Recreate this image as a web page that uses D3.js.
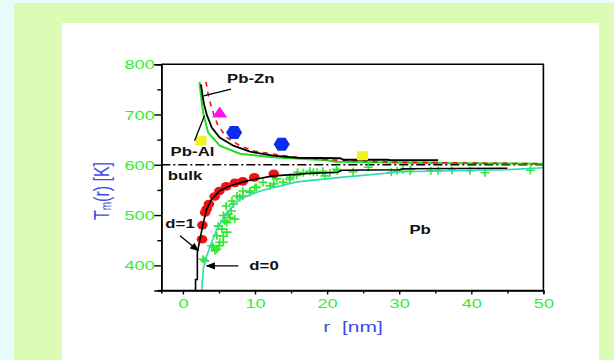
<!DOCTYPE html>
<html><head><meta charset="utf-8">
<script src="https://cdn.jsdelivr.net/npm/d3@7"></script>
<style>html,body{margin:0;padding:0;background:#e6fdfc;}svg{display:block;font-family:Arial,"Liberation Sans",sans-serif;}</style>
</head><body>
<svg id="c" width="614" height="360"></svg>
<script>
// ---------- data ----------
const xTicks = [0, 10, 20, 30, 40, 50];
const xMinor = [5, 15, 25, 35, 45];
const yTicks = [400, 500, 600, 700, 800];
const yMinor = [450, 550, 650, 750];
const bulkT = 600;

const upperBlack = [[2.5,760],[2.7,740],[2.9,722],[3.3,700],[4,674],[5.1,654],[7,638],[9.3,626],[12.5,618],[15.8,614],[21.8,613],[22.3,610],[28.4,610],[28.8,609],[35.4,609]];
const upperGreen = [[2.3,765],[2.5,738],[2.7,714],[2.9,697],[3.5,664],[5.1,638],[7.9,622],[12.5,615],[20,609],[21,606],[30,604],[50,602]];
const upperRed = [[3.2,765],[3.5,740],[4,712],[4.8,680],[6,655],[8,637],[10,627],[15,616],[20,610],[30,605],[50,602]];
const lowerBlack = [[1.75,350],[1.75,372],[2.0,372],[2.0,426],[2.37,452],[2.83,485],[3.3,512],[4,532],[5.1,548],[6.5,558],[8.85,568],[12.5,578],[15.8,581],[17.7,583],[21.5,585],[22,589],[30,590],[30.5,592],[45,593]];
const lowerCyan = [[2.6,350],[2.83,393],[3.3,419],[4,446],[4.7,472],[6.1,505],[7.9,532],[10.7,548],[13.5,558],[15.8,566],[21.9,575],[30.5,586],[44.7,590],[50,594]];

const redCircles = [[2.65,452],[2.7,480],[3.07,505],[3.3,512],[3.6,522],[4.4,537],[5.05,548],[6.0,557],[7.2,564],[8.3,567],[9.9,575],[12.6,582]];
const greenCrosses = [[2.8,412],[3.05,409],[4.0,439],[4.2,436],[4.45,429],[4.7,432],[5.0,439],[5.1,446],[5.6,446],[5.6,458],[6.1,466],[4.7,459],[4.9,478],[5.4,472],[5.8,488],[6.1,485],[6.5,495],[7.2,492],[5.6,499],[6.3,502],[6.7,508],[6.0,518],[7.0,522],[6.8,528],[7.9,535],[7.5,538],[8.3,538],[8.3,548],[9.3,545],[9.3,548],[10,555],[10.2,555],[11.1,565],[12.1,558],[12.6,562],[13,572],[13.9,565],[14.8,571],[14.9,575],[15.8,579],[15.9,585],[16.7,584],[17.6,587],[18.1,585],[18.6,585],[19.4,587],[19.7,578],[20.4,584],[21.3,591],[21.4,588],[23.6,586],[25.7,595],[28.9,585],[29.7,588],[30.5,590],[31.5,587],[31.6,591],[34.4,588],[35.4,588],[37.3,589],[39.8,588],[41.9,584],[48.2,589]];
const yellowSquares = [[2.5,648],[24.9,618]];
const magentaTriangles = [[5.1,704]];
const blueDiamonds = [[7.1,664],[13.7,641]];

const labels = [
  {t:"Pb-Zn", r:9.4, T:771},
  {t:"Pb-Al", r:1.33, T:625},
  {t:"bulk", r:0.29, T:577.5},
  {t:"d=1", r:-0.4, T:482},
  {t:"d=0", r:11.25, T:399},
  {t:"Pb", r:32.9, T:470}
];
const leaders = [
  {a:[2.87,737], b:[6.67,750.5], arrow:false},
  {a:[1.62,647.7], b:[2.98,697.4], arrow:false},
  {a:[-0.4,459], b:[2.14,429], arrow:true},
  {a:[7.68,399], b:[3.3,399], arrow:true}
];

// ---------- layout ----------
const SX = 1.4;
const svg = d3.select("#c");
svg.append("rect").attr("x",14).attr("y",3).attr("width",600).attr("height",357).attr("fill","#dcfcb6");
svg.append("rect").attr("x",62).attr("y",23).attr("width",537).attr("height",337).attr("fill","#ffffff");

const x = d3.scaleLinear().domain([-3,50]).range([161.3,543.4]);
const y = d3.scaleLinear().domain([350,800]).range([290.5,64.2]);

const tickGreen = "#33ee33";
const g = svg.append("g");

// defs
const defs = svg.append("defs");
defs.append("marker").attr("id","ah").attr("viewBox","0 0 10 10").attr("refX",9).attr("refY",5)
  .attr("markerWidth",7).attr("markerHeight",7).attr("orient","auto-start-reverse")
  .append("path").attr("d","M0,1 L10,5 L0,9 Z").attr("fill","#000");
defs.append("clipPath").attr("id","pc").append("rect")
  .attr("x",x(-3)).attr("y",y(800)).attr("width",x(50)-x(-3)).attr("height",y(350)-y(800));

const plot = g.append("g").attr("clip-path","url(#pc)");
const line = d3.line().x(d=>x(d[0])).y(d=>y(d[1]));
const curve = d3.line().x(d=>x(d[0])).y(d=>y(d[1])).curve(d3.curveMonotoneX);

// bulk dash-dot
plot.append("path").datum([[-3,bulkT],[50,bulkT]]).attr("d",line)
  .attr("stroke","#000").attr("stroke-width",1.5).attr("stroke-dasharray","9,3,2,3").attr("fill","none");

// green crosses
plot.append("g").selectAll("path").data(greenCrosses).join("path")
  .attr("d",d=>{const cx=x(d[0]),cy=y(d[1]);return `M${cx-4.5},${cy}H${cx+4.5}M${cx},${cy-4}V${cy+4}`;})
  .attr("stroke","#2de82d").attr("stroke-width",1.6).attr("fill","none");

// red circles
plot.append("g").selectAll("ellipse").data(redCircles).join("ellipse")
  .attr("cx",d=>x(d[0])).attr("cy",d=>y(d[1])).attr("rx",5.3).attr("ry",4.3).attr("fill","#ee1111");

// curves
plot.append("path").datum(lowerCyan).attr("d",line).attr("stroke","#2fd9b4").attr("stroke-width",1.6).attr("fill","none");
plot.append("path").datum(lowerBlack).attr("d",line).attr("stroke","#000").attr("stroke-width",1.6).attr("fill","none");
plot.append("path").datum(upperGreen).attr("d",line).attr("stroke","#22dd22").attr("stroke-width",2).attr("fill","none");
plot.append("path").datum(upperRed).attr("d",line).attr("stroke","#ee1111").attr("stroke-width",1.6).attr("stroke-dasharray","5,5").attr("fill","none");
plot.append("path").datum(upperBlack).attr("d",line).attr("stroke","#000").attr("stroke-width",1.8).attr("fill","none");

// markers
plot.append("g").selectAll("rect").data(yellowSquares).join("rect")
  .attr("x",d=>x(d[0])-5.5).attr("y",d=>y(d[1])-4.5).attr("width",11).attr("height",9).attr("fill","#f2f21e");
plot.append("g").selectAll("path").data(magentaTriangles).join("path")
  .attr("d",d=>{const cx=x(d[0]),cy=y(d[1]);return `M${cx-7.5},${cy+5}L${cx},${cy-6}L${cx+7.5},${cy+5}Z`;})
  .attr("fill","#ff10f0");
plot.append("g").selectAll("path").data(blueDiamonds).join("path")
  .attr("d",d=>{const cx=x(d[0]),cy=y(d[1]);return `M${cx-8},${cy}L${cx-4},${cy-6.5}L${cx+4},${cy-6.5}L${cx+8},${cy}L${cx+4},${cy+6.5}L${cx-4},${cy+6.5}Z`;})
  .attr("fill","#0a2ef0");

// leaders
g.append("g").selectAll("path").data(leaders).join("path")
  .attr("d",d=>`M${x(d.a[0])},${y(d.a[1])}L${x(d.b[0])},${y(d.b[1])}`)
  .attr("stroke","#000").attr("stroke-width",1.3).attr("fill","none")
  .attr("marker-end",d=>d.arrow?"url(#ah)":null);

// frame
g.append("path").attr("d",`M${x(-3)},${y(800)}H${x(50)}V${y(350)}`).attr("stroke","#000").attr("stroke-width",1.6).attr("fill","none");

// axes
const ax = g.append("g").attr("transform",`translate(0,${y(350)})`);
ax.call(d3.axisBottom(x).tickValues(xTicks).tickSize(4).tickFormat(d3.format("d")));
ax.append("g").call(d3.axisBottom(x).tickValues(xMinor).tickSize(3).tickFormat(""));
ax.selectAll("path.domain").attr("stroke","#000").attr("stroke-width",1.6);
ax.select("path.domain").attr("d",`M${x(-3)-3},0H${x(50)}`);
ax.selectAll(".tick line").attr("stroke","#000").attr("stroke-width",1.4);
ax.selectAll(".tick text").attr("fill",tickGreen).attr("font-size",13).attr("y",0).attr("dy",0)
  .attr("dominant-baseline","central")
  .attr("transform",function(){const p=d3.select(this.parentNode).attr("transform");return `translate(0,12.5) scale(${SX},1)`;});

const ay = g.append("g").attr("transform",`translate(${x(-3)},0)`);
ay.call(d3.axisLeft(y).tickValues(yTicks).tickSize(7).tickFormat(d3.format("d")));
ay.append("g").call(d3.axisLeft(y).tickValues(yMinor).tickSize(4).tickFormat(""));
ay.selectAll("path.domain").attr("stroke","#000").attr("stroke-width",1.6);
ay.selectAll(".tick line").attr("stroke","#000").attr("stroke-width",1.4);
ay.selectAll(".tick text").attr("fill",tickGreen).attr("font-size",13).attr("x",-6.5/SX).attr("dy",0)
  .attr("dominant-baseline","central").attr("transform",`scale(${SX},1)`);
svg.selectAll(".domain").attr("fill","none");

// annotation labels
g.append("g").selectAll("text").data(labels).join("text")
  .attr("transform",d=>`translate(${x(d.r)},${y(d.T)}) scale(${SX},1)`)
  .attr("text-anchor","middle").attr("dominant-baseline","central")
  .attr("font-size",12).attr("font-weight","bold").attr("fill","#111").text(d=>d.t);

// axis titles
const xt = g.append("text").attr("transform",`translate(353,327) scale(${SX},1)`)
  .attr("text-anchor","middle").attr("dominant-baseline","central").attr("font-size",15).attr("fill","#3a4ce8");
xt.text("r  [nm]").attr("xml:space","preserve");

const yt = g.append("text").attr("transform",`translate(101,191) scale(${SX},1) rotate(-90)`)
  .attr("text-anchor","middle").attr("dominant-baseline","central").attr("font-size",16).attr("fill","#3a4ce8");
yt.append("tspan").text("T");
yt.append("tspan").attr("font-size",10).attr("dy",4).text("m");
yt.append("tspan").attr("dy",-4).text("(r) [K]");
</script>
</body></html>
